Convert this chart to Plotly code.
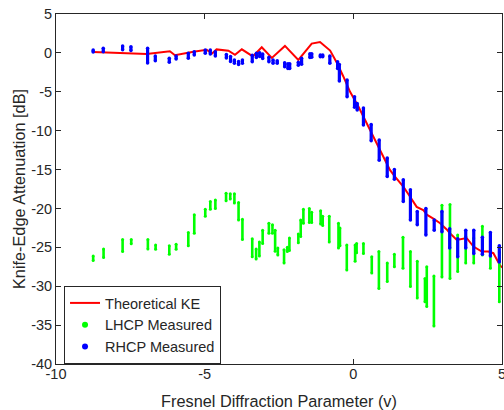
import plotly.graph_objects as go

# ---------------- data ----------------
# Theoretical knife-edge attenuation
ke_v = [-8.75, -6.95, -6.17, -6.0, -5.38, -4.93, -4.76, -4.60, -4.20, -3.98, -3.75, -3.38,
        -3.08, -2.74, -2.30, -1.85, -1.40, -1.12, -0.78, -0.55, -0.34, -0.11, 0.17, 0.34,
        0.56, 0.84, 1.12, 1.23, 1.40, 1.68, 1.91, 2.13, 2.35, 2.47, 2.69, 2.92, 3.14, 3.25,
        3.48, 3.81, 4.04, 4.32, 4.54, 4.71, 4.93, 5.0]
ke_db = [0.1, -0.15, 0.2, -0.3, 0.15, 0.4, -0.1, 0.45, 0.28, -0.25, 0.46, -0.45,
         0.72, -0.65, 0.9, -0.9, 1.2, 1.4, 0.3, -1.3, -3.0, -5.0, -6.9, -8.2,
         -9.9, -12.1, -14.2, -15.05, -15.9, -17.2, -18.5, -19.8, -20.2, -20.8, -21.3, -21.9, -22.7, -23.2,
         -24.05, -23.8, -24.9, -25.55, -25.55, -25.75, -27.3, -27.6]

# RHCP measured: each v position holds a spread of samples (top / bottom of the spread)
rhcp_v = [-8.75, -8.41, -7.76, -7.48, -6.92, -6.66, -6.19, -5.96, -5.55, -5.35, -4.98, -4.81,
          -4.64, -4.27, -4.13, -4.00, -3.86, -3.73, -3.40, -3.26, -3.15, -3.05, -2.84, -2.70,
          -2.56, -2.31, -2.20, -2.14, -1.85, -1.74, -1.46, -1.40, -1.11, -1.03, -0.79, -0.53,
          -0.47, -0.21, 0.04, 0.13, 0.34, 0.60, 0.87, 1.14, 1.38, 1.68, 1.92, 2.15,
          2.44, 2.72, 2.98, 3.24, 3.51, 3.78, 4.05, 4.34, 4.61, 4.91]
rhcp_hi = [0.37, 0.6, 0.9, 0.8, 0.6, -0.4, -0.7, -0.4, -0.05, 0.15, 0.37, 0.37,
           0.15, -0.2, -0.45, -0.9, -1.1, -0.9, -0.3, -0.05, 0.03, -0.14, -0.57, -0.9,
           -1.0, -1.26, -1.4, -1.4, -1.2, -0.7, -0.1, -0.1, -0.27, -0.27, -0.4, -1.13,
           -1.5, -3.48, -5.63, -6.5, -7.1, -9.2, -11.2, -13.5, -15.0, -16.3, -17.6, -20.4,
           -20.0, -21.5, -20.4, -22.6, -23.9, -22.8, -22.8, -23.7, -23.1, -24.8]
rhcp_lo = [0.1, 0.15, 0.4, 0.3, -1.3, -1.0, -1.2, -0.8, -0.7, -0.27, -0.05, -0.14,
           -0.4, -0.65, -1.1, -1.34, -1.5, -1.34, -1.13, -0.6, -0.45, -0.72, -1.13, -1.34,
           -1.34, -1.77, -2.0, -2.0, -1.6, -1.45, -0.6, -0.55, -0.5, -0.5, -1.34, -2.0,
           -3.6, -5.63, -7.0, -7.34, -9.27, -11.3, -13.8, -15.9, -16.25, -19.1, -21.5, -22.1,
           -23.4, -22.8, -23.0, -25.1, -26.2, -25.1, -25.8, -25.9, -26.1, -26.9]

# LHCP measured
lhcp_v = [-8.75, -8.40, -7.76, -7.47, -6.91, -6.65, -6.19, -5.96, -5.55, -5.35, -4.98, -4.81,
          -4.64, -4.28, -4.14, -4.00, -3.86, -3.73, -3.40, -3.27, -3.16, -3.05, -2.84, -2.72,
          -2.63, -2.54, -2.33, -2.22, -2.15, -1.85, -1.77, -1.68, -1.48, -1.40, -1.10, -1.03,
          -0.81, -0.50, -0.45, -0.22, 0.06, 0.11, 0.34, 0.62, 0.86, 1.14, 1.38, 1.67,
          1.92, 2.15, 2.41, 2.47, 2.71, 2.98, 3.25, 3.51, 3.78, 4.05, 4.34, 4.61, 4.91]
lhcp_hi = [-26.1, -25.2, -24.0, -24.0, -24.0, -24.7, -24.8, -24.6, -23.1, -20.8, -20.1, -19.1,
           -18.9, -18.05, -18.1, -18.1, -19.25, -21.4, -23.9, -25.2, -24.3, -22.8, -21.9, -22.1,
           -22.8, -25.1, -25.3, -25.0, -23.8, -23.3, -21.5, -20.1, -20.0, -20.5, -20.3, -21.0,
           -21.0, -21.9, -22.5, -24.7, -24.7, -24.5, -24.5, -26.2, -25.55, -27.0, -25.9, -23.7,
           -25.55, -26.8, -29.0, -27.5, -28.7, -19.6, -19.5, -23.4, -23.6, -23.8, -22.3, -26.0, -25.6]
lhcp_lo = [-26.7, -26.3, -25.55, -24.55, -25.2, -25.25, -25.9, -25.25, -24.8, -23.2, -21.0, -20.1,
           -20.0, -19.0, -18.8, -19.3, -21.5, -24.0, -26.2, -26.5, -26.1, -24.5, -23.2, -23.2,
           -25.5, -26.0, -27.0, -25.55, -25.4, -24.4, -23.6, -21.9, -21.8, -21.8, -22.0, -22.2,
           -24.3, -25.1, -24.8, -27.9, -26.8, -25.7, -25.8, -28.3, -30.3, -29.4, -27.5, -27.7,
           -30.05, -31.5, -32.0, -32.6, -35.1, -28.8, -29.0, -28.1, -27.0, -27.0, -26.0, -27.7, -32.0]

x_tick_vals = [-10, -5, 0, 5]
x_tick_text = ["-10", "-5", "0", "5"]
y_tick_vals = [5, 0, -5, -10, -15, -20, -25, -30, -35, -40]
y_tick_text = ["5", "0", "-5", "-10", "-15", "-20", "-25", "-30", "-35", "-40"]


def streaks(xs, hi, lo):
    sx, sy = [], []
    for x, h, l in zip(xs, hi, lo):
        sx += [x, x, None]
        sy += [h, l, None]
    return sx, sy


FONT = "Liberation Sans, Arial, Helvetica, sans-serif"
AX = "#262626"

fig = go.Figure()
fig.add_trace(go.Scatter(x=ke_v, y=ke_db, mode="lines", name="Theoretical KE",
                         line=dict(color="#ff0000", width=2)))
fig.add_trace(go.Scatter(x=[None], y=[None], mode="markers", name="LHCP Measured",
                         marker=dict(color="#00ff00", size=6)))
fig.add_trace(go.Scatter(x=[None], y=[None], mode="markers", name="RHCP Measured",
                         marker=dict(color="#0000ff", size=6)))
gx, gy = streaks(lhcp_v, lhcp_hi, lhcp_lo)
fig.add_trace(go.Scatter(x=gx, y=gy, mode="lines+markers", showlegend=False,
                         line=dict(color="#00ff00", width=2.6),
                         marker=dict(color="#00ff00", size=3), hoverinfo="skip"))
bx, by = streaks(rhcp_v, rhcp_hi, rhcp_lo)
fig.add_trace(go.Scatter(x=bx, y=by, mode="lines+markers", showlegend=False,
                         line=dict(color="#0000ff", width=3.2),
                         marker=dict(color="#0000ff", size=3.5), hoverinfo="skip"))

axis_common = dict(showgrid=False, zeroline=False, showline=True, linecolor=AX, linewidth=1,
                   mirror="allticks", ticks="inside", ticklen=5, tickcolor=AX, tickwidth=1,
                   automargin=False,
                   tickfont=dict(family=FONT, size=14.5, color=AX))

fig.update_layout(
    width=504, height=410,
    margin=dict(l=56, r=2, t=14, b=46, autoexpand=False),
    paper_bgcolor="white", plot_bgcolor="white",
    font=dict(family=FONT, color=AX),
    xaxis=dict(range=[-10, 5], tickvals=x_tick_vals, ticktext=x_tick_text,
               ticklabelstandoff=-3, ticklabeloverflow="allow",
               title=dict(text="Fresnel Diffraction Parameter (v)",
                          font=dict(family=FONT, size=16.3, color=AX), standoff=15),
               **axis_common),
    yaxis=dict(range=[-40, 5], tickvals=y_tick_vals, ticktext=y_tick_text,
               title=dict(text="Knife-Edge Attenuation [dB]",
                          font=dict(family=FONT, size=16.3, color=AX), standoff=1),
               **axis_common),
    legend=dict(x=0.018, y=0.2229, xanchor="left", yanchor="top",
                bgcolor="white", bordercolor=AX, borderwidth=1,
                font=dict(family=FONT, size=14.5, color=AX),
                tracegroupgap=0, itemwidth=30),
    showlegend=True,
)

fig.write_html("out.html", config={"displayModeBar": False},
               post_script="document.body.style.margin='0';document.body.style.padding='0';")
